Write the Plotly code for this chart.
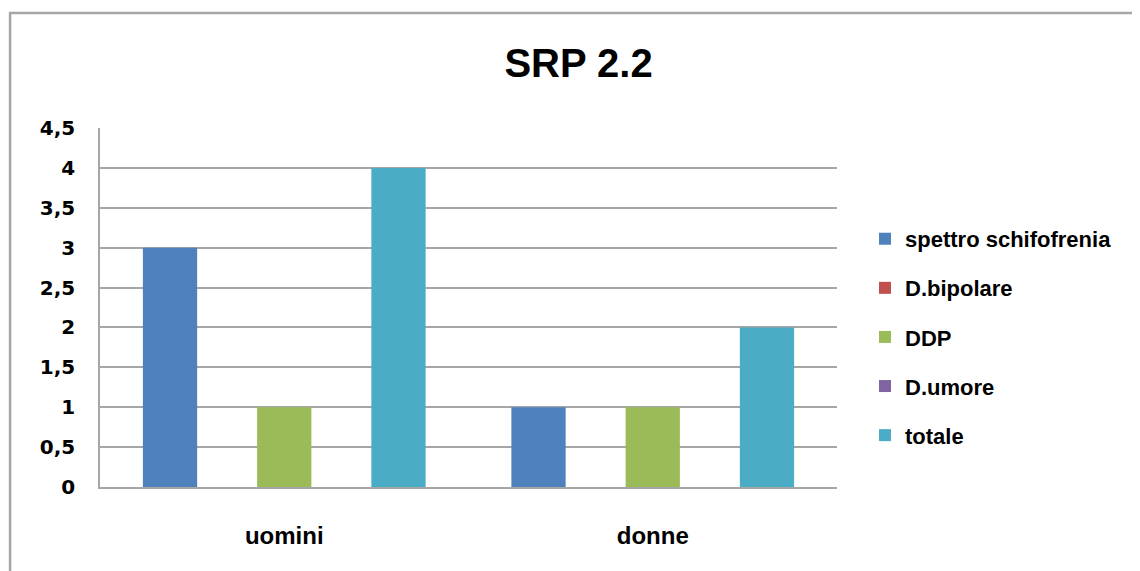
import plotly.graph_objects as go

categories = ["uomini", "donne"]
series_names = ["spettro schifofrenia", "D.bipolare", "DDP", "D.umore", "totale"]
series_values = [
    [3, 1],
    [0, 0],
    [1, 1],
    [0, 0],
    [4, 2],
]
series_colors = ["#4F81BD", "#C0504D", "#9BBB59", "#8064A2", "#4BACC6"]

# page body has an 8px margin, so the figure is sized to fit the window
W, H = 1132, 563

fig = go.Figure()
for i, (name, vals, col) in enumerate(zip(series_names, series_values, series_colors)):
    fig.add_trace(go.Bar(
        x=categories, y=vals, name=name, marker_color=col,
        marker_line_width=0, legendgroup=f"g{i}",
    ))

fig.update_layout(
    width=W, height=H,
    paper_bgcolor="white", plot_bgcolor="white",
    margin=dict(l=92, r=303, t=120, b=84),
    separators=",.",
    barmode="group", bargap=0.225, bargroupgap=0.05,
    title=dict(text="<b>SRP 2.2</b>", x=0.504, xanchor="center", y=0.902, yanchor="middle",
               font=dict(family="Arial, Liberation Sans, sans-serif", size=40, color="#000")),
    legend=dict(x=1.038, xanchor="left", y=0.418, yanchor="middle",
                font=dict(family="Arial, Liberation Sans, sans-serif", size=22, color="#000",
                          weight="bold"),
                tracegroupgap=17.5, itemwidth=30, bgcolor="rgba(0,0,0,0)"),
    showlegend=True,
)
fig.update_yaxes(range=[0, 4.5], dtick=0.5, showgrid=True, gridcolor="#A6A6A6", gridwidth=1.5,
                 showline=True, linecolor="#A6A6A6", linewidth=1.5, zeroline=False,
                 ticks="", ticklabelstandoff=19,
                 tickfont=dict(family="DejaVu Sans, Verdana, sans-serif", size=20, color="#000", weight="bold"))
fig.update_xaxes(showline=True, linecolor="#A6A6A6", linewidth=1.5, ticks="", ticklabelstandoff=26,
                 tickfont=dict(family="Arial, Liberation Sans, sans-serif", size=24,
                               color="#000", weight="bold"))

fig.add_shape(type="rect", xref="paper", yref="paper",
              x0=-0.122, x1=1.407, y0=-0.4, y1=1.320,
              line=dict(color="#A6A6A6", width=2.5), fillcolor="rgba(0,0,0,0)", layer="below")

fig.write_html("out.html")
